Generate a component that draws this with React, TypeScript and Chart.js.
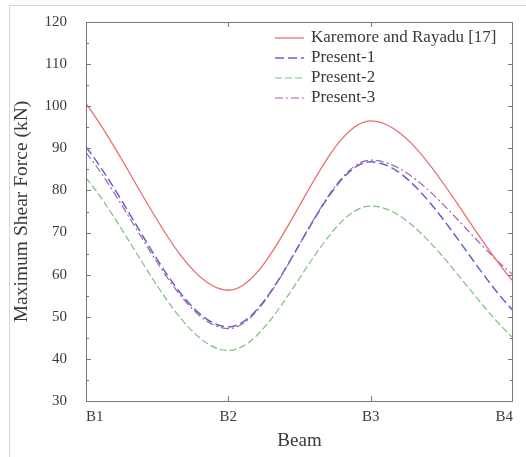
import React, { useEffect, useRef } from "react";
import { Chart, registerables } from "chart.js";

Chart.register(...registerables);

const beams = ["B1", "B2", "B3", "B4"];
const karemore = [100.6, 56.3, 96.5, 58.5];
const present1 = [90.3, 47.6, 86.8, 51.5];
const present2 = [83.0, 42.0, 76.3, 45.0];
const present3 = [89.0, 47.2, 87.2, 60.0];
const yTicks = [30, 40, 50, 60, 70, 80, 90, 100, 110, 120];

const FONT = "'Liberation Serif', 'Times New Roman', serif";
const TEXT = "#3a3a3a";

const seriesStyle = [
  { label: "Karemore and Rayadu [17]", data: karemore, color: "rgb(236,110,110)", dash: [] as number[], width: 1.3 },
  { label: "Present-1", data: present1, color: "rgb(100,100,205)", dash: [9, 4], width: 1.5 },
  { label: "Present-2", data: present2, color: "rgb(125,192,125)", dash: [7, 3], width: 1.2 },
  { label: "Present-3", data: present3, color: "rgb(172,95,172)", dash: [8, 3, 2, 3], width: 1.2 },
];

const framePlugin = {
  id: "frameTicks",
  afterDatasetsDraw(chart: any) {
    const { ctx, chartArea: a, scales } = chart;
    const y = scales.y;
    const x = scales.x;
    ctx.save();
    ctx.strokeStyle = "#777";
    ctx.lineWidth = 1;
    ctx.setLineDash([]);
    ctx.strokeRect(a.left + 0.5, a.top + 0.5, a.right - a.left - 1, a.bottom - a.top);
    ctx.beginPath();
    for (let v = 30; v <= 120; v += 5) {
      const py = Math.round(y.getPixelForValue(v)) + 0.5;
      const len = v % 10 === 0 ? 5 : 3;
      ctx.moveTo(a.left, py);
      ctx.lineTo(a.left + len, py);
      ctx.moveTo(a.right, py);
      ctx.lineTo(a.right - len, py);
    }
    for (let i = 1; i < beams.length - 1; i++) {
      const px = Math.round(x.getPixelForValue(i)) + 0.5;
      ctx.moveTo(px, a.bottom);
      ctx.lineTo(px, a.bottom - 5);
      ctx.moveTo(px, a.top);
      ctx.lineTo(px, a.top + 5);
    }
    ctx.stroke();
    ctx.restore();
  },
  afterDraw(chart: any) {
    const { ctx } = chart;
    ctx.save();
    ctx.font = `17px ${FONT}`;
    ctx.textBaseline = "middle";
    seriesStyle.forEach((s, i) => {
      const ly = 38 + i * 20;
      ctx.strokeStyle = s.color;
      ctx.lineWidth = s.width;
      ctx.setLineDash(s.dash);
      ctx.beginPath();
      ctx.moveTo(275, ly);
      ctx.lineTo(304, ly);
      ctx.stroke();
      ctx.setLineDash([]);
      ctx.fillStyle = TEXT;
      ctx.fillText(s.label, 311, ly);
    });
    ctx.restore();
  },
};

export default function App() {
  const ref = useRef<HTMLCanvasElement>(null);
  useEffect(() => {
    if (!ref.current) return;
    const chart = new Chart(ref.current, {
      type: "line",
      data: {
        labels: beams,
        datasets: seriesStyle.map((s) => ({
          label: s.label,
          data: s.data,
          borderColor: s.color,
          backgroundColor: s.color,
          borderWidth: s.width,
          borderDash: s.dash,
          pointRadius: 0,
          fill: false,
          cubicInterpolationMode: "monotone" as const,
        })),
      },
      options: {
        responsive: false,
        animation: false,
        layout: { padding: { top: 22, right: 13, left: 0, bottom: 0 } },
        plugins: { legend: { display: false }, tooltip: { enabled: false } },
        scales: {
          x: {
            offset: false,
            grid: { display: false },
            border: { display: false },
            ticks: { align: "inner", padding: -1, color: TEXT, font: { family: FONT, size: 15 }, maxRotation: 0 },
            title: { display: true, text: "Beam", color: TEXT, font: { family: FONT, size: 19 }, padding: { top: 0, bottom: 5 } },
            afterFit: (s: any) => { s.height = 56; },
          },
          y: {
            min: 30,
            max: 120,
            grid: { display: false },
            border: { display: false },
            afterBuildTicks: (s: any) => { s.ticks = yTicks.map((v) => ({ value: v })); },
            ticks: { padding: 11, color: TEXT, font: { family: FONT, size: 15 } },
            title: { display: true, text: "Maximum Shear Force (kN)", color: TEXT, font: { family: FONT, size: 19.5 }, padding: { top: 10, bottom: 0 } },
            afterFit: (s: any) => { s.width = 86; },
          },
        },
      },
      plugins: [framePlugin],
    });
    return () => chart.destroy();
  }, []);
  return (
    <div>
      <div style={{ position: "fixed", left: 9, top: 5, width: 530, height: 470, border: "1px solid #d6d6d6", boxSizing: "border-box" }} />
      <canvas ref={ref} width={526} height={457} style={{ position: "fixed", left: 0, top: 0, width: 526, height: 457 }} />
    </div>
  );
}
